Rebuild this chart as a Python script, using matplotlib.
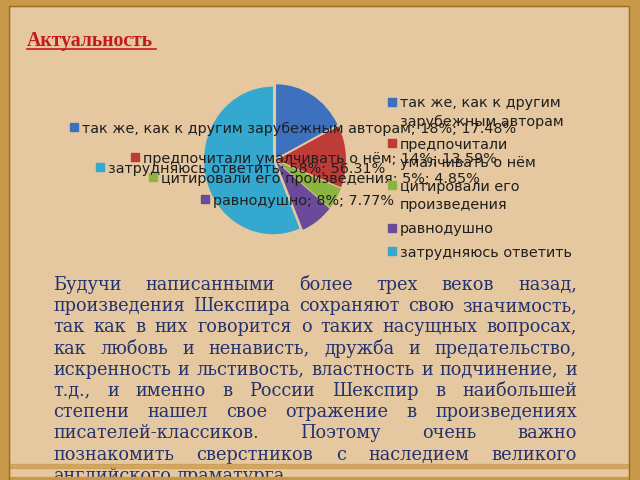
import matplotlib
matplotlib.use("Agg")
import matplotlib.pyplot as plt
from matplotlib.patches import Rectangle

# данные диаграммы
names = ["так же, как к другим зарубежным авторам",
         "предпочитали умалчивать о нём",
         "цитировали его произведения",
         "равнодушно",
         "затрудняюсь ответить"]
legend_names = ["так же, как к другим\nзарубежным авторам",
                "предпочитали\nумалчивать о нём",
                "цитировали его\nпроизведения",
                "равнодушно",
                "затрудняюсь ответить"]
values = [18, 14, 5, 8, 58]
colors = ["#3d70bd", "#bf3b38", "#8bb53f", "#6a4b99", "#35a8cf"]

title = "Актуальность"
paragraph = [
    "Будучи написанными более трех веков назад,",
    "произведения Шекспира сохраняют свою значимость,",
    "так как в них говорится о таких насущных вопросах,",
    "как любовь и ненависть, дружба и предательство,",
    "искренность и льстивость, властность и подчинение, и",
    "т.д., и именно в России Шекспир в наибольшей",
    "степени нашел свое отражение в произведениях",
    "писателей-классиков. Поэтому очень важно",
    "познакомить сверстников с наследием великого",
    "английского драматурга.",
]

# положения подписей (пиксели): левый край квадрата, центр строки
label_pos = [(70, 127), (131, 157), (149, 177), (201, 199), (96, 167)]
legend_y = [102, 143, 185, 228, 251]

fig = plt.figure(figsize=(6.4, 4.8), dpi=100)
fig.patch.set_facecolor("#e6c8a0")

# круговая диаграмма (немного вытянута по вертикали)
cx, cy, rx, ry = 275, 160, 71, 76
pie_ax = fig.add_axes([(cx - rx) / 640, 1 - (cy + ry) / 480, 2 * rx / 640, 2 * ry / 480])
pie_ax.pie(values, colors=colors, startangle=90, counterclock=False,
           explode=[0.03] * 5, wedgeprops=dict(linewidth=0))
pie_ax.set_aspect("auto")
pie_ax.set_xlim(-1.03, 1.03)
pie_ax.set_ylim(-1.03, 1.03)
pie_ax.axis("off")

# верхний слой в пикселях для текста и рамки
top = fig.add_axes([0, 0, 1, 1])
top.set_xlim(0, 640)
top.set_ylim(480, 0)
top.axis("off")
top.patch.set_alpha(0)

# рамка
gold = "#c9994a"
dark = "#9c6d2a"
top.add_patch(Rectangle((0, 0), 640, 6, color=gold, zorder=5))
top.add_patch(Rectangle((0, 0), 9, 480, color=gold, zorder=5))
top.add_patch(Rectangle((629, 0), 11, 480, color=gold, zorder=5))
top.add_patch(Rectangle((9, 464), 620, 4, color=gold, alpha=0.7, zorder=5))
top.add_patch(Rectangle((0, 477), 640, 3, color=gold, zorder=5))
top.add_patch(Rectangle((9, 6), 620, 480, fill=False, ec=dark, lw=1.0, zorder=5))

# заголовок
top.text(27, 46, title, fontsize=14.2, fontweight="bold", family="Liberation Serif",
         color="#c41a1a", va="baseline", ha="left")
top.plot([27, 156], [48.5, 48.5], color="#c41a1a", lw=1.2)

# подписи долей поверх круга
total = sum(values)
for i in range(len(values)):
    x, y = label_pos[i]
    pct = values[i] / total * 100
    top.add_patch(Rectangle((x, y - 4), 8, 8, color=colors[i], zorder=3))
    top.text(x + 12, y, "%s; %d%%; %.2f%%" % (names[i], values[i], pct),
             fontsize=10.4, color="#1f1f1f", va="center_baseline", ha="left", zorder=3)

# легенда
for i in range(len(values)):
    y = legend_y[i]
    top.add_patch(Rectangle((388, y - 4), 8, 8, color=colors[i], zorder=3))
    for k, part in enumerate(legend_names[i].split("\n")):
        top.text(400, y + k * 18, part, fontsize=10.4, color="#1f1f1f",
                 va="center_baseline", ha="left", zorder=3)

# абзац по ширине
fig.canvas.draw()
renderer = fig.canvas.get_renderer()
left, right = 53, 577
for i, line in enumerate(paragraph):
    base = 290 + i * 21.2
    words = line.split()
    items = []
    for w in words:
        tw = top.text(0, base, w, fontsize=12.8, family="DejaVu Serif",
                      color="#22326e", va="baseline", ha="left", zorder=2)
        items.append((tw, tw.get_window_extent(renderer).width))
    widths = sum(wd for _, wd in items)
    if i < len(paragraph) - 1 and len(items) > 1:
        gap = (right - left - widths) / (len(items) - 1)
    else:
        gap = 5.5
    xpos = left
    for tw, wd in items:
        tw.set_x(xpos)
        xpos += wd + gap

fig.savefig("out.png", dpi=100, facecolor=fig.get_facecolor())
